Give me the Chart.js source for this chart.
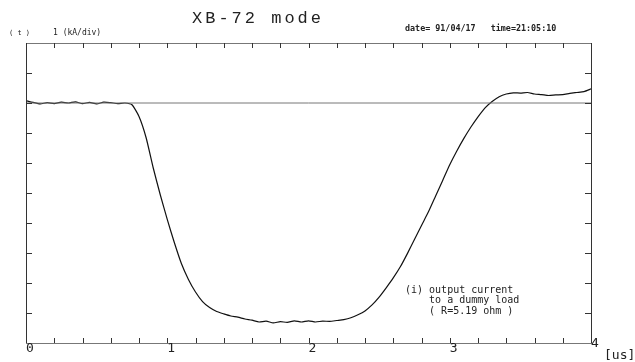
<!DOCTYPE html>
<html>
<head>
<meta charset="utf-8">
<script src="https://cdn.jsdelivr.net/npm/chart.js@4/dist/chart.umd.min.js"></script>
<style>
html, body { margin: 0; padding: 0; background: #fff; }
</style>
</head>
<body>
<canvas id="scope" width="635" height="362"></canvas>
<script>
// time axis in microseconds, current in kA (1 kA/div)
const timeUs = [
  0.00, 0.05, 0.10, 0.15, 0.20, 0.25, 0.30, 0.35, 0.40, 0.45,
  0.50, 0.55, 0.60, 0.65, 0.70, 0.75, 0.80, 0.85, 0.90, 0.95,
  1.00, 1.05, 1.10, 1.15, 1.20, 1.25, 1.30, 1.35, 1.40, 1.45,
  1.50, 1.55, 1.60, 1.65, 1.70, 1.75, 1.80, 1.85, 1.90, 1.95,
  2.00, 2.05, 2.10, 2.15, 2.20, 2.25, 2.30, 2.35, 2.40, 2.45,
  2.50, 2.55, 2.60, 2.65, 2.70, 2.75, 2.80, 2.85, 2.90, 2.95,
  3.00, 3.05, 3.10, 3.15, 3.20, 3.25, 3.30, 3.35, 3.40, 3.45,
  3.50, 3.55, 3.60, 3.65, 3.70, 3.75, 3.80, 3.85, 3.90, 3.95,
  4.00
];
const currentKA = [
  0.08, 0.02, -0.03, 0.01, -0.02, 0.03, 0.00, 0.04, -0.02, 0.02,
  -0.03, 0.03, 0.01, -0.02, 0.00, -0.06, -0.45, -1.15, -2.15, -3.05,
  -3.88, -4.65, -5.35, -5.88, -6.30, -6.62, -6.82, -6.95, -7.03, -7.10,
  -7.14, -7.20, -7.24, -7.30, -7.27, -7.33, -7.29, -7.31, -7.26, -7.30,
  -7.26, -7.30, -7.27, -7.28, -7.25, -7.22, -7.16, -7.06, -6.93, -6.73,
  -6.47, -6.16, -5.83, -5.46, -5.02, -4.55, -4.08, -3.62, -3.10, -2.58,
  -2.06, -1.60, -1.18, -0.80, -0.46, -0.16, 0.05, 0.21, 0.30, 0.34,
  0.33, 0.35, 0.30, 0.28, 0.25, 0.27, 0.28, 0.32, 0.35, 0.38,
  0.47
];
const refLevel = 0;
const xTickLabels = ['0', '1', '2', '3', '4'];
const xMinorStep = 0.2;
const yDivs = [-7, -6, -5, -4, -3, -2, -1, 0, 1];
const noteLines = ['(i) output current', '    to a dummy load', '    ( R=5.19 ohm )'];

const tracePoints = timeUs.map((t, i) => ({ x: t, y: currentKA[i] }));

const scopeFrame = {
  id: 'scopeFrame',
  afterDraw(chart) {
    const ctx = chart.ctx;
    const ca = chart.chartArea;
    const xs = chart.scales.x;
    const ys = chart.scales.y;
    ctx.save();

    // frame
    ctx.strokeStyle = '#777';
    ctx.lineWidth = 1;
    ctx.strokeRect(ca.left + 0.5, ca.top + 0.5, ca.right - ca.left, ca.bottom - ca.top);
    ctx.strokeStyle = '#333';
    ctx.beginPath();
    ctx.moveTo(ca.left + 0.5, ca.top);
    ctx.lineTo(ca.left + 0.5, ca.bottom);
    ctx.moveTo(ca.right + 0.5, ca.top);
    ctx.lineTo(ca.right + 0.5, ca.bottom);
    ctx.stroke();

    // inward ticks
    ctx.strokeStyle = '#333';
    ctx.beginPath();
    const n = Math.round((xs.max - xs.min) / xMinorStep);
    for (let i = 1; i < n; i++) {
      const px = Math.round(xs.getPixelForValue(xs.min + i * xMinorStep)) + 0.5;
      ctx.moveTo(px, ca.top);
      ctx.lineTo(px, ca.top + 5);
      ctx.moveTo(px, ca.bottom);
      ctx.lineTo(px, ca.bottom - 5);
    }
    yDivs.forEach(v => {
      const py = Math.round(ys.getPixelForValue(v)) + 0.5;
      ctx.moveTo(ca.left, py);
      ctx.lineTo(ca.left + 6, py);
      ctx.moveTo(ca.right, py);
      ctx.lineTo(ca.right - 6, py);
    });
    ctx.stroke();

    // x tick labels
    ctx.fillStyle = '#222';
    ctx.font = '13px "DejaVu Sans Mono"';
    ctx.textAlign = 'center';
    ctx.textBaseline = 'middle';
    xTickLabels.forEach((lbl, i) => {
      const px = xs.getPixelForValue(Number(lbl));
      const dy = i === xTickLabels.length - 1 ? 344 : 349;
      ctx.fillText(lbl, px + 4, dy);
    });
    ctx.textAlign = 'left';
    ctx.fillText('[us]', 604, 356);

    // title
    ctx.font = '17px "Liberation Mono"';
    ctx.letterSpacing = '3px';
    ctx.fillText('XB-72 mode', 192, 18);
    ctx.letterSpacing = '0px';

    // header notes
    ctx.font = '7px "DejaVu Sans Mono"';
    ctx.fillText('( t )', 9, 33);
    ctx.font = '8px "DejaVu Sans Mono"';
    ctx.fillText('1 (kA/div)', 53, 33);
    ctx.font = 'bold 8.4px "DejaVu Sans Mono"';
    ctx.fillText('date= 91/04/17   time=21:05:10', 405, 29);

    // annotation
    ctx.font = '10px "DejaVu Sans Mono"';
    noteLines.forEach((line, i) => ctx.fillText(line, 405, 290 + i * 10.5));

    ctx.restore();
  }
};

new Chart(document.getElementById('scope').getContext('2d'), {
  type: 'line',
  data: {
    datasets: [
      {
        label: 'reference',
        data: [{ x: 0, y: refLevel }, { x: 4, y: refLevel }],
        borderColor: '#777',
        borderWidth: 1,
        pointRadius: 0
      },
      {
        label: 'output current',
        data: tracePoints,
        borderColor: '#111',
        borderWidth: 1.2,
        pointRadius: 0,
        tension: 0.2
      }
    ]
  },
  options: {
    responsive: false,
    animation: false,
    layout: { padding: { left: 26, right: 44, top: 43, bottom: 19 } },
    plugins: { legend: { display: false }, tooltip: { enabled: false } },
    scales: {
      x: { type: 'linear', min: 0, max: 4, display: false },
      y: { type: 'linear', min: -8, max: 2, display: false }
    }
  },
  plugins: [scopeFrame]
});
</script>
</body>
</html>
